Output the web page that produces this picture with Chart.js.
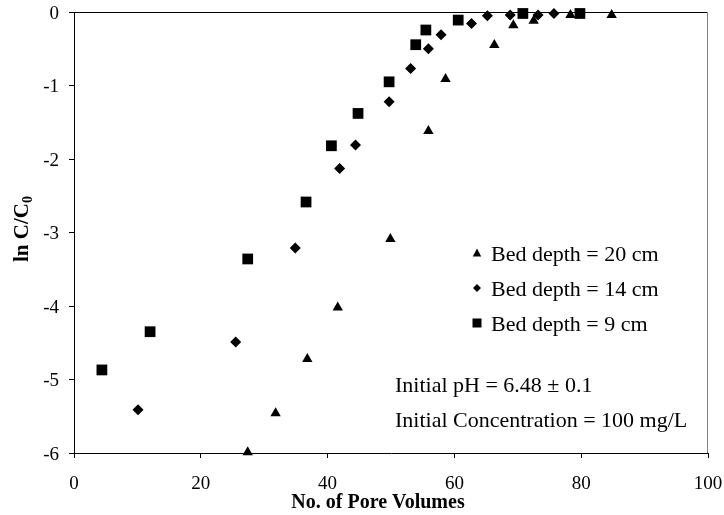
<!DOCTYPE html>
<html>
<head>
<meta charset="utf-8">
<script src="https://cdn.jsdelivr.net/npm/chart.js@4/dist/chart.umd.min.js"></script>
<style>
  html, body { margin: 0; padding: 0; background: #fff; }
</style>
</head>
<body>
<canvas id="breakthrough" width="724" height="515"></canvas>
<script>
// values: pore volumes vs ln C/C0
var depth20X = [27.4, 31.8, 36.8, 41.6, 49.9, 55.9, 58.6, 66.3, 69.3, 72.5, 78.3, 84.8];
var depth20Y = [-5.99, -5.46, -4.72, -4.02, -3.09, -1.62, -0.91, -0.45, -0.18, -0.12, -0.04, -0.04];
var depth14X = [10.1, 25.5, 34.9, 41.9, 44.4, 49.7, 53.1, 55.9, 57.9, 62.7, 65.2, 68.8, 73.2, 75.7];
var depth14Y = [-5.41, -4.49, -3.21, -2.13, -1.81, -1.22, -0.77, -0.50, -0.31, -0.155, -0.05, -0.04, -0.04, -0.02];
var depth9X = [4.4, 12.0, 27.4, 36.6, 40.6, 44.8, 49.7, 53.9, 55.5, 60.6, 70.8, 79.8];
var depth9Y = [-4.87, -4.35, -3.36, -2.585, -1.82, -1.38, -0.95, -0.445, -0.245, -0.11, -0.02, -0.02];

var seriesNames = ['Bed depth = 20 cm', 'Bed depth = 14 cm', 'Bed depth = 9 cm'];
var notes = ['Initial pH = 6.48 \u00b1 0.1', 'Initial Concentration = 100 mg/L'];
var xTitle = 'No. of Pore Volumes';
var xMin = 0, xMax = 100, xStep = 20;
var yMin = -6, yMax = 0, yStep = 1;

var SERIF = "'Liberation Serif', 'Times New Roman', serif";

function toPoints(xs, ys) {
    var pts = [];
    for (var i = 0; i < xs.length; i++) {
        pts.push({x: xs[i], y: ys[i]});
    }
    return pts;
}

// small legend glyphs, same shapes as the markers
function legendMark(ctx, kind, x, y) {
    ctx.beginPath();
    if (kind === 'triangle') {
        ctx.moveTo(x, y - 4.5);
        ctx.lineTo(x + 4.2, y + 3.5);
        ctx.lineTo(x - 4.2, y + 3.5);
    } else if (kind === 'rectRot') {
        ctx.moveTo(x, y - 4);
        ctx.lineTo(x + 4, y);
        ctx.lineTo(x, y + 4);
        ctx.lineTo(x - 4, y);
    } else {
        ctx.rect(x - 4.5, y - 4.5, 9, 9);
    }
    ctx.closePath();
    ctx.fill();
}

var frame = {
    id: 'frame',
    beforeDatasetsDraw: function(chart) {
        var ctx = chart.ctx, a = chart.chartArea;
        ctx.save();
        ctx.lineWidth = 1;
        ctx.strokeStyle = '#000';
        ctx.beginPath();
        ctx.moveTo(a.left, a.top + 0.5);
        ctx.lineTo(a.right, a.top + 0.5);
        ctx.stroke();
        ctx.strokeStyle = '#808080';
        ctx.beginPath();
        ctx.moveTo(a.right - 0.5, a.top);
        ctx.lineTo(a.right - 0.5, a.bottom);
        ctx.stroke();
        ctx.restore();
    },
    afterDraw: function(chart) {
        var ctx = chart.ctx;
        ctx.save();
        ctx.fillStyle = '#000';

        // legend inside the plot
        var kinds = ['triangle', 'rectRot', 'rect'];
        ctx.font = '22px ' + SERIF;
        ctx.textAlign = 'left';
        ctx.textBaseline = 'alphabetic';
        for (var i = 0; i < seriesNames.length; i++) {
            var cy = 253 + i * 35;
            legendMark(ctx, kinds[i], 477, cy);
            ctx.fillText(seriesNames[i], 491, cy + 8);
        }

        // experiment conditions
        ctx.fillText(notes[0], 395, 392);
        ctx.fillText(notes[1], 395, 427);

        // x title
        ctx.font = 'bold 20px ' + SERIF;
        ctx.textAlign = 'center';
        ctx.textBaseline = 'middle';
        ctx.fillText(xTitle, 378, 503);

        // y title with subscript
        ctx.translate(21, 229);
        ctx.rotate(-Math.PI / 2);
        var main = 'ln C/C';
        ctx.font = 'bold 21px ' + SERIF;
        var w1 = ctx.measureText(main).width;
        ctx.font = 'bold 14px ' + SERIF;
        var w2 = ctx.measureText('0').width;
        var start = -(w1 + w2) / 2;
        ctx.textAlign = 'left';
        ctx.textBaseline = 'alphabetic';
        ctx.font = 'bold 21px ' + SERIF;
        ctx.fillText(main, start, 7);
        ctx.font = 'bold 14px ' + SERIF;
        ctx.fillText('0', start + w1, 11);
        ctx.restore();
    }
};

var ctx = document.getElementById('breakthrough');
var chart = new Chart(ctx, {
    type: 'scatter',
    data: {
        datasets: [{
            label: seriesNames[0],
            data: toPoints(depth20X, depth20Y),
            pointStyle: 'triangle',
            pointRadius: 6,
            backgroundColor: '#000',
            borderColor: '#000',
            borderWidth: 0,
            clip: false
        }, {
            label: seriesNames[1],
            data: toPoints(depth14X, depth14Y),
            pointStyle: 'rectRot',
            pointRadius: 5.5,
            backgroundColor: '#000',
            borderColor: '#000',
            borderWidth: 0,
            clip: false
        }, {
            label: seriesNames[2],
            data: toPoints(depth9X, depth9Y),
            pointStyle: 'rect',
            pointRadius: 7.6,
            backgroundColor: '#000',
            borderColor: '#000',
            borderWidth: 0,
            clip: false
        }]
    },
    options: {
        responsive: false,
        animation: false,
        events: [],
        layout: { padding: { top: 12, right: 16, left: 0, bottom: 0 } },
        plugins: {
            legend: { display: false },
            tooltip: { enabled: false }
        },
        scales: {
            x: {
                type: 'linear',
                min: xMin,
                max: xMax,
                afterFit: function(scale) {
                    scale.height = 62;
                    scale.paddingLeft = 0;
                    scale.paddingRight = 0;
                },
                border: { display: true, color: '#000', width: 1 },
                grid: { drawOnChartArea: false, drawTicks: true, tickLength: 5, color: '#000' },
                ticks: {
                    stepSize: xStep,
                    color: '#000',
                    padding: 15,
                    maxRotation: 0,
                    font: { family: SERIF, size: 19 }
                }
            },
            y: {
                type: 'linear',
                min: yMin,
                max: yMax,
                afterFit: function(scale) {
                    scale.width = 74;
                    scale.paddingTop = 0;
                    scale.paddingBottom = 0;
                },
                border: { display: true, color: '#000', width: 1 },
                grid: { drawOnChartArea: false, drawTicks: true, tickLength: 5, color: '#000' },
                ticks: {
                    stepSize: yStep,
                    color: '#000',
                    padding: 10,
                    labelOffset: 2,
                    font: { family: SERIF, size: 19 }
                }
            }
        }
    },
    plugins: [frame]
});
</script>
</body>
</html>
